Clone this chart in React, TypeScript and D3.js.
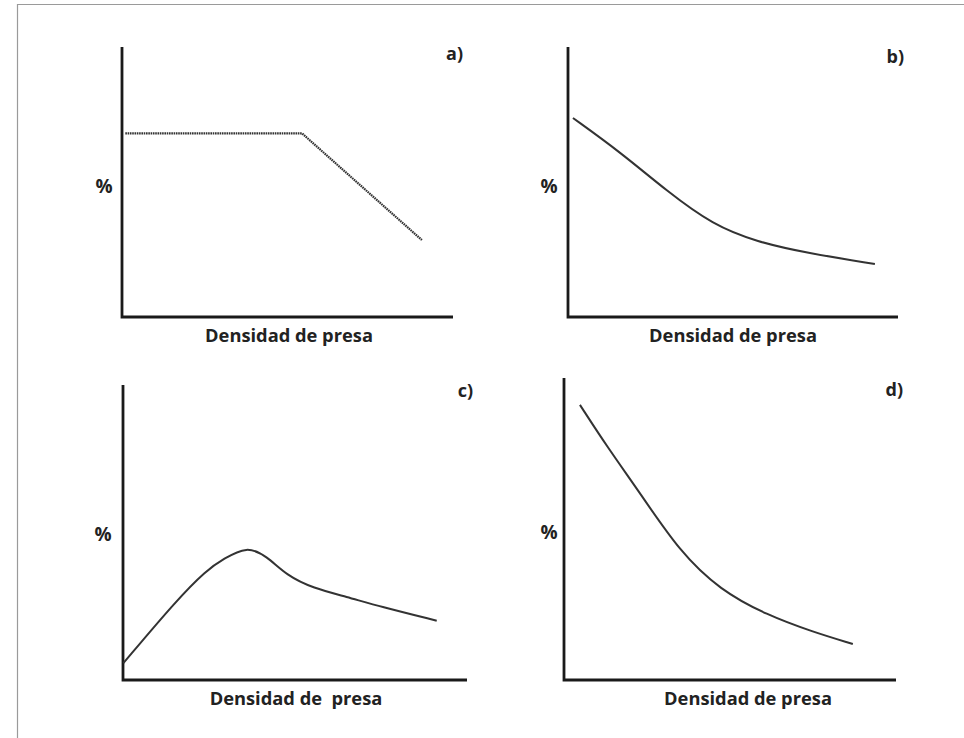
import * as d3 from 'd3'

// values, in a 0–100 scale on both axes
const aX = [1, 54.4, 90.6]
const aY = [68, 68, 28.5]

const bX = [1.5, 15.8, 30, 43.9, 57.3, 72.4, 93]
const bY = [73.7, 61.1, 46.6, 34.1, 27.8, 23.7, 19.6]

const cX = [0.1, 15.6, 24.3, 29.2, 36, 41.8, 47.6, 55.3, 65, 74.7, 91.2]
const cY = [5.7, 27.1, 37.3, 41, 45.4, 42, 35.4, 31.1, 28.2, 24.9, 20.1]

const dX = [4.8, 13, 22.9, 34.9, 47, 61.1, 75, 87]
const dY = [91.1, 77.2, 61.9, 42.4, 29.8, 21.5, 15.9, 11.9]

const panelLabels = ['a)', 'b)', 'c)', 'd)']
const xTitles = ['Densidad de presa', 'Densidad de presa', 'Densidad de\u00a0 presa', 'Densidad de presa']
const yTitle = '%'

const series = [
  { xs: aX, ys: aY, curve: d3.curveLinear, dash: '1.6,0.7' },
  { xs: bX, ys: bY, curve: d3.curveBasis, dash: null },
  { xs: cX, ys: cY, curve: d3.curveBasis, dash: null },
  { xs: dX, ys: dY, curve: d3.curveBasis, dash: null },
]

// plot frames: axis corner (x0, y0), top of y axis, end of x axis, text anchors
const frames = [
  { x0: 122, x1: 453, y0: 317, y1: 47, lx: 463, ly: 60, px: 104, py: 193, tx: 289, ty: 342 },
  { x0: 568, x1: 898, y0: 317, y1: 47, lx: 904, ly: 63, px: 549, py: 193, tx: 733, ty: 342 },
  { x0: 123, x1: 467, y0: 680, y1: 385, lx: 473, ly: 397, px: 103, py: 541, tx: 296, ty: 705 },
  { x0: 564, x1: 896, y0: 680, y1: 378, lx: 903, ly: 396, px: 549, py: 539, tx: 748, ty: 705 },
]

const font = "'Open Sans', 'DejaVu Sans', sans-serif"

function Panel({ i }: { i: number }) {
  const f = frames[i]
  const s = series[i]
  const x = d3.scaleLinear().domain([0, 100]).range([f.x0, f.x1])
  const y = d3.scaleLinear().domain([0, 100]).range([f.y0, f.y1])
  const pts = s.xs.map((v, k) => [v, s.ys[k]] as [number, number])
  const line = d3
    .line<[number, number]>()
    .x((d) => x(d[0]))
    .y((d) => y(d[1]))
    .curve(s.curve)

  return (
    <g>
      <path
        d={`M${x(0)},${y(100)}V${y(0)}H${x(100)}`}
        fill="none"
        stroke="#1a1a1a"
        strokeWidth={2.8}
      />
      <path
        d={line(pts) || ''}
        fill="none"
        stroke="#333"
        strokeWidth={s.dash ? 2.2 : 2}
        strokeDasharray={s.dash || undefined}
      />
      <text x={f.lx} y={f.ly} textAnchor="end" fontSize={18} fontWeight={700} fill="#222">
        {panelLabels[i]}
      </text>
      <text x={f.px} y={f.py} textAnchor="middle" fontSize={19} fontWeight={700} fill="#222">
        {yTitle}
      </text>
      <text x={f.tx} y={f.ty} textAnchor="middle" fontSize={18.3} fontWeight={700} fill="#222">
        {xTitles[i]}
      </text>
    </g>
  )
}

export default function App() {
  return (
    <svg
      width={964}
      height={738}
      style={{ position: 'absolute', left: 0, top: 0, background: '#fff', fontFamily: font }}
    >
      <rect x={0} y={0} width={964} height={738} fill="#fff" />
      <path d="M17.5,738V4.5H964" fill="none" stroke="#9a9a9a" strokeWidth={1.2} />
      {[0, 1, 2, 3].map((i) => (
        <Panel key={i} i={i} />
      ))}
    </svg>
  )
}
